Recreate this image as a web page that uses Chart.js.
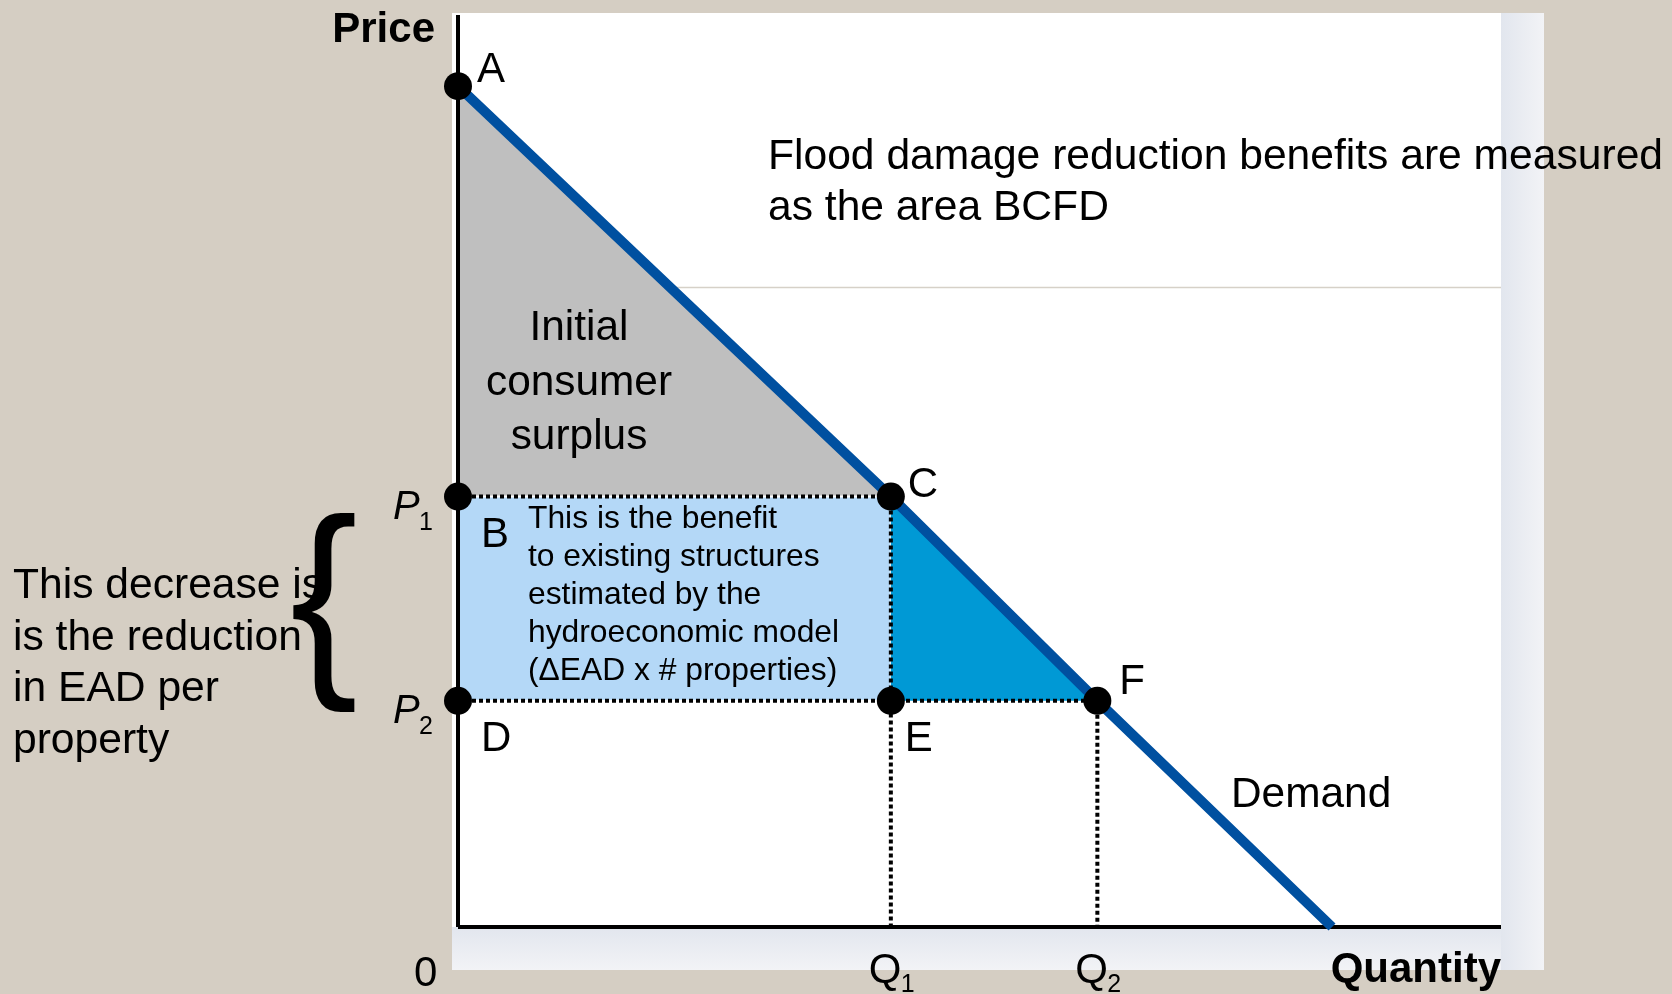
<!DOCTYPE html>
<html>
<head>
<meta charset="utf-8">
<script src="https://cdn.jsdelivr.net/npm/chart.js@4/dist/chart.umd.min.js"></script>
<style>
  html, body { margin: 0; padding: 0; background: #d5cec3; }
  canvas { display: block; }
</style>
</head>
<body>
<canvas id="surplusChart" width="1672" height="994"></canvas>
<script>
// Consumer surplus / flood damage reduction diagram
// axis units are arbitrary (0..10 on both axes)

const pointNames = ['A', 'B', 'C', 'D', 'E', 'F'];
const pointQ = [0, 0, 4.15, 0, 4.15, 6.13];
const pointP = [9.22, 4.72, 4.72, 2.48, 2.48, 2.48];

const demandQ = [0, 4.15, 6.13, 8.38];
const demandP = [9.22, 4.72, 2.48, 0];

const priceTickValues = [4.72, 2.48];
const priceTickSubs = ['1', '2'];
const qtyTickValues = [0, 4.15, 6.13];
const qtyTickLabels = ['0', 'Q', 'Q'];
const qtyTickSubs = ['', '1', '2'];

const gridLineP = [7.02];

const FONT = '"Liberation Sans", Arial, sans-serif';

function pt(name) {
  const i = pointNames.indexOf(name);
  return { x: pointQ[i], y: pointP[i] };
}

const dotted = (a, b) => ({
  data: [a, b],
  showLine: true,
  borderColor: '#000',
  borderWidth: 4,
  borderDash: [4, 3],
  pointRadius: 0,
  clip: false
});

const area = (pts, color, border) => ({
  data: pts,
  showLine: true,
  fill: 'shape',
  backgroundColor: color,
  borderColor: border || 'rgba(0,0,0,0)',
  borderWidth: border ? 2 : 0,
  pointRadius: 0
});

// first dataset is drawn on top
const datasets = [
  {
    data: pointQ.map((q, i) => ({ x: q, y: pointP[i] })),
    showLine: false,
    pointRadius: 14,
    pointBackgroundColor: '#000',
    pointBorderWidth: 0,
    clip: false
  },
  {
    data: demandQ.map((q, i) => ({ x: q, y: demandP[i] })),
    showLine: true,
    borderColor: '#0050a0',
    borderWidth: 10,
    borderCapStyle: 'butt',
    pointRadius: 0,
    clip: false
  },
  // axes
  { data: [{ x: 0, y: 0 }, { x: 10, y: 0 }], showLine: true, borderColor: '#000', borderWidth: 4, pointRadius: 0, clip: false },
  { data: [{ x: 0, y: 0 }, { x: 0, y: 10 }], showLine: true, borderColor: '#000', borderWidth: 4, pointRadius: 0, clip: false },
  // dotted guides
  dotted(pt('B'), pt('C')),
  dotted(pt('D'), pt('F')),
  dotted(pt('C'), { x: pt('C').x, y: 0 }),
  dotted(pt('F'), { x: pt('F').x, y: 0 }),
  // shaded areas
  area([pt('C'), pt('F'), pt('E')], '#0099d5'),
  area([pt('B'), pt('C'), pt('E'), pt('D')], '#b4d8f7', '#ffffff'),
  area([pt('A'), pt('C'), pt('B')], '#bfbfbf')
];

const panel = {
  id: 'panel',
  beforeDraw(chart) {
    const { ctx, chartArea: a, scales } = chart;
    ctx.save();
    ctx.fillStyle = '#d5cec3';
    ctx.fillRect(0, 0, chart.width, chart.height);

    const left = a.left - 6, top = a.top - 2;
    const gb = ctx.createLinearGradient(0, a.bottom, 0, a.bottom + 43);
    gb.addColorStop(0, '#e2e6ee');
    gb.addColorStop(1, '#f2f3f6');
    ctx.fillStyle = gb;
    ctx.fillRect(left, a.bottom, a.right - left + 43, 43);

    const gr = ctx.createLinearGradient(a.right, 0, a.right + 43, 0);
    gr.addColorStop(0, '#e2e6ee');
    gr.addColorStop(1, '#f2f3f6');
    ctx.fillStyle = gr;
    ctx.fillRect(a.right, top, 43, a.bottom - top + 43);

    ctx.fillStyle = '#ffffff';
    ctx.fillRect(left, top, a.right - left, a.bottom - top);

    ctx.strokeStyle = '#d6d1c8';
    ctx.lineWidth = 1.5;
    gridLineP.forEach(v => {
      const y = Math.round(scales.y.getPixelForValue(v)) + 0.5;
      ctx.beginPath();
      ctx.moveTo(a.left, y);
      ctx.lineTo(a.right, y);
      ctx.stroke();
    });
    ctx.restore();
  }
};

function text(ctx, s, x, y, size, opts) {
  opts = opts || {};
  ctx.font = (opts.style || '') + ' ' + size + 'px ' + FONT;
  ctx.textAlign = opts.align || 'left';
  ctx.textBaseline = 'alphabetic';
  ctx.fillStyle = '#000';
  ctx.fillText(s, x, y);
}

const labels = {
  id: 'labels',
  afterDraw(chart) {
    const { ctx, chartArea: a, scales: { x, y } } = chart;
    const px = q => x.getPixelForValue(q);
    const py = p => y.getPixelForValue(p);
    ctx.save();

    // axis titles
    text(ctx, 'Price', a.left - 23, 42, 42, { style: 'bold', align: 'right' });
    text(ctx, 'Quantity', a.right, 982, 42, { style: 'bold', align: 'right' });

    // point letters
    const offs = { A: [19, -4], B: [23, 50], C: [17, 0], D: [23, 50], E: [14, 50], F: [22, -7] };
    pointNames.forEach((n, i) => {
      text(ctx, n, px(pointQ[i]) + offs[n][0], py(pointP[i]) + offs[n][1], 42);
    });

    // price ticks
    priceTickValues.forEach((v, i) => {
      text(ctx, 'P', a.left - 65, py(v) + 22, 40, { style: 'italic' });
      text(ctx, priceTickSubs[i], a.left - 39, py(v) + 33, 25);
    });

    // quantity ticks
    qtyTickValues.forEach((v, i) => {
      if (qtyTickSubs[i] === '') {
        text(ctx, qtyTickLabels[i], px(v) - 44, 986, 42);
      } else {
        text(ctx, qtyTickLabels[i], px(v) - 22, 983, 42);
        text(ctx, qtyTickSubs[i], px(v) + 10, 992, 25);
      }
    });

    text(ctx, 'Demand', 1231, 807, 42.4);

    // annotations
    text(ctx, 'Flood damage reduction benefits are measured', 768, 169, 42.6);
    text(ctx, 'as the area BCFD', 768, 220, 42.6);

    ['Initial', 'consumer', 'surplus'].forEach((s, i) => {
      text(ctx, s, 579, 340 + i * 54.5, 42.4, { align: 'center' });
    });

    ['This is the benefit', 'to existing structures', 'estimated by the',
     'hydroeconomic model', '(\u0394EAD x # properties)'].forEach((s, i) => {
      text(ctx, s, 528, 528 + i * 38.1, 31.8);
    });

    ['This decrease is', 'is the reduction', 'in EAD per', 'property'].forEach((s, i) => {
      text(ctx, s, 13, 598 + i * 51.6, 42.6);
    });

    // curly brace between P1 and P2
    ctx.font = '200px ' + FONT;
    const m = ctx.measureText('{');
    const gw = m.actualBoundingBoxLeft + m.actualBoundingBoxRight;
    const gh = m.actualBoundingBoxAscent + m.actualBoundingBoxDescent;
    const bx = 293, by = 513, bw = 62, bh = 200;
    ctx.translate(bx, by);
    ctx.scale(bw / gw, bh / gh);
    ctx.fillStyle = '#000';
    ctx.textAlign = 'left';
    ctx.textBaseline = 'alphabetic';
    ctx.fillText('{', m.actualBoundingBoxLeft, m.actualBoundingBoxAscent);

    ctx.restore();
  }
};

new Chart(document.getElementById('surplusChart'), {
  type: 'scatter',
  data: { datasets: datasets },
  options: {
    responsive: false,
    animation: false,
    events: [],
    layout: { padding: { left: 458, right: 171, top: 15, bottom: 67 } },
    plugins: { legend: { display: false }, tooltip: { enabled: false }, title: { display: false } },
    scales: {
      x: { type: 'linear', min: 0, max: 10, display: false },
      y: { type: 'linear', min: 0, max: 10, display: false }
    }
  },
  plugins: [panel, labels]
});
</script>
</body>
</html>
